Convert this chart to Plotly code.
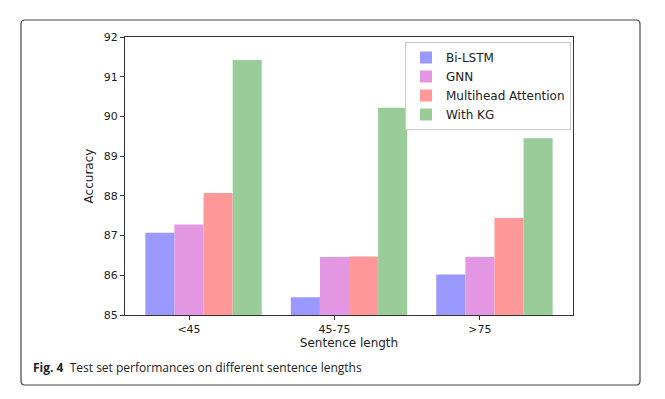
import plotly.graph_objects as go

categories = ["<45", "45-75", ">75"]
series_names = ["Bi-LSTM", "GNN", "Multihead Attention", "With KG"]
bilstm = [87.07, 85.45, 86.02]
gnn = [87.28, 86.46, 86.46]
mha = [88.07, 86.47, 87.44]
with_kg = [91.42, 90.22, 89.45]
y_ticks = [85, 86, 87, 88, 89, 90, 91, 92]

colors = ["rgb(153,153,255)", "rgb(227,151,227)", "rgb(255,153,153)", "rgb(153,204,153)"]
offsets = [-0.2, 0.0, 0.2, 0.4]
bar_width = 0.2

fig = go.Figure()
for name, vals, col, off in zip(series_names, [bilstm, gnn, mha, with_kg], colors, offsets):
    fig.add_trace(go.Bar(
        name=name,
        x=[i + off for i in range(len(categories))],
        y=vals,
        width=bar_width,
        marker=dict(color=col, line=dict(width=0)),
    ))

W, H = 665, 399
L, R, T, B = 125, 573, 37, 315
pw, ph = R - L, B - T

def px(x):
    return (x - L) / pw

def py(y):
    return (B - y) / ph

# rounded outer frame
x0, x1, y0, y1, r = 21, 640, 20, 385, 4
rx, ry = r / pw, r / ph
path = (
    f"M {px(x0)+rx},{py(y0)} L {px(x1)-rx},{py(y0)} Q {px(x1)},{py(y0)} {px(x1)},{py(y0)-ry} "
    f"L {px(x1)},{py(y1)+ry} Q {px(x1)},{py(y1)} {px(x1)-rx},{py(y1)} "
    f"L {px(x0)+rx},{py(y1)} Q {px(x0)},{py(y1)} {px(x0)},{py(y1)+ry} "
    f"L {px(x0)},{py(y0)-ry} Q {px(x0)},{py(y0)} {px(x0)+rx},{py(y0)} Z"
)

fig.update_layout(
    width=W, height=H,
    margin=dict(l=L, r=W - R, t=T, b=H - B, autoexpand=False),
    paper_bgcolor="white", plot_bgcolor="white",
    font=dict(family="DejaVu Sans", size=11, color="#222"),
    barmode="overlay",
    showlegend=True,
    legend=dict(
        x=px(405), y=py(42), xanchor="left", yanchor="top",
        bgcolor="rgba(255,255,255,0.8)", bordercolor="#cccccc", borderwidth=1,
        font=dict(family="DejaVu Sans", size=12, color="#222"),
        tracegroupgap=0, itemwidth=30,
    ),
    xaxis=dict(
        range=[-0.44, 2.64], automargin=False,
        tickmode="array", tickvals=list(range(len(categories))), ticktext=categories,
        ticks="outside", ticklen=4, tickcolor="#333",
        tickfont=dict(size=11),
        showline=True, linecolor="#333", linewidth=1, mirror=True,
        showgrid=False, zeroline=False,
        title=dict(text="Sentence length", font=dict(size=12), standoff=3),
    ),
    yaxis=dict(
        range=[85, 92], automargin=False,
        tickmode="array", tickvals=y_ticks, ticktext=[str(v) for v in y_ticks],
        ticks="outside", ticklen=4, tickcolor="#333",
        tickfont=dict(size=11),
        showline=True, linecolor="#333", linewidth=1, mirror=True,
        showgrid=False, zeroline=False,
        title=dict(text="Accuracy", font=dict(size=12), standoff=7),
    ),
    shapes=[dict(type="path", xref="paper", yref="paper", path=path,
                 line=dict(color="#444", width=1.2), fillcolor="rgba(0,0,0,0)", layer="above")],
    annotations=[dict(
        xref="paper", yref="paper", x=px(31), y=py(367), xanchor="left", yanchor="middle",
        text="<b>Fig. 4</b>  Test set performances on different sentence lengths",
        showarrow=False, font=dict(family="Open Sans", size=12, color="#222"),
    )],
)

fig.write_html("out.html", config={"displayModeBar": False},
               post_script="document.body.style.margin='0px';")
